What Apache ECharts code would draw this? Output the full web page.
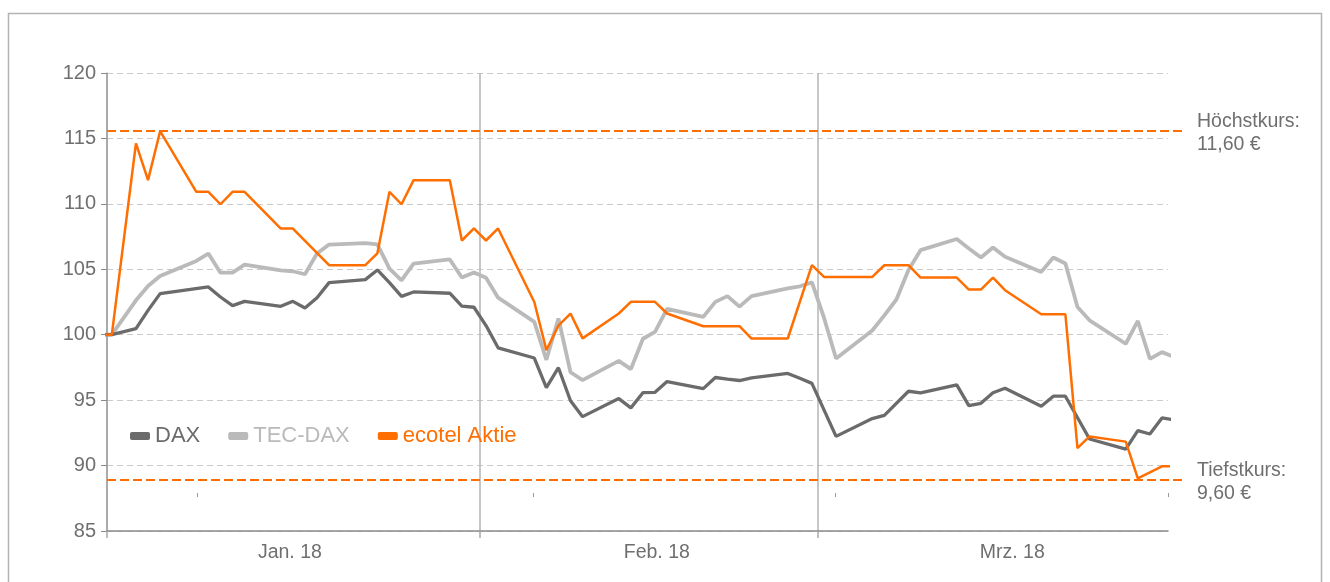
<!DOCTYPE html>
<html>
<head>
<meta charset="utf-8">
<script src="https://cdn.jsdelivr.net/npm/echarts@6/dist/echarts.min.js"></script>
<style>
  html, body { margin: 0; padding: 0; background: #fff; }
  #chart { width: 1330px; height: 582px; }
</style>
</head>
<body>
<div id="chart"></div>
<script>
// ---- Data (x = trading day offset from start, y = indexed value, start = 100) ----
const daxDays = [-1,0,2,3,4,8,9,10,11,14,15,16,17,18,21,22,23,24,25,28,29,30,31,32,35,36,37,38,39,42,43,44,45,46,49,50,51,52,53,56,57,58,60,63,64,66,67,70,71,72,73,74,77,78,79,81,84,85,86,87,88];
const daxValues = [100,100,100.46,101.86,103.14,103.65,102.88,102.22,102.55,102.17,102.55,102.04,102.83,103.98,104.21,104.95,103.98,102.93,103.27,103.17,102.18,102.1,100.7,99.0,98.22,95.95,97.48,94.95,93.74,95.12,94.41,95.57,95.6,96.42,95.88,96.73,96.6,96.5,96.7,97.04,96.67,96.28,92.23,93.59,93.84,95.68,95.56,96.17,94.58,94.76,95.56,95.91,94.53,95.3,95.3,92.03,91.26,92.67,92.41,93.64,93.5];

const tecDays = [-1,0,2,3,4,7,8,9,10,11,14,15,16,17,18,21,22,23,24,25,28,29,30,31,32,35,36,37,38,39,42,43,44,45,46,49,50,51,52,53,56,57,58,59,60,63,64,65,66,67,70,71,72,73,74,77,78,79,80,81,84,85,86,87,88];
const tecValues = [100,100,102.63,103.72,104.49,105.64,106.2,104.74,104.74,105.36,104.92,104.85,104.62,106.2,106.89,107.0,106.91,105.05,104.16,105.43,105.75,104.37,104.76,104.36,102.83,100.98,98.08,101.24,97.13,96.53,98.0,97.37,99.69,100.22,101.98,101.36,102.51,102.95,102.15,102.95,103.54,103.7,104.0,101.3,98.18,100.32,101.48,102.69,104.95,106.46,107.31,106.59,105.9,106.67,105.95,104.8,105.9,105.44,102.12,101.1,99.31,101.05,98.16,98.67,98.3];

const ecoDays = [-1,0,2,3,4,7,8,9,10,11,14,15,18,21,22,23,24,25,28,29,30,31,32,35,36,37,38,39,42,43,45,46,49,52,53,56,58,59,63,64,66,67,70,71,72,73,74,77,79,80,81,84,85,87,88];
const ecoValues = [100,100,114.62,111.81,115.55,110.92,110.92,109.97,110.92,110.92,108.11,108.11,105.31,105.31,106.22,110.92,109.97,111.81,111.81,107.2,108.12,107.2,108.12,102.5,98.82,100.69,101.62,99.72,101.62,102.51,102.51,101.62,100.65,100.65,99.71,99.71,105.32,104.42,104.42,105.31,105.31,104.37,104.37,103.45,103.45,104.37,103.4,101.56,101.56,91.34,92.23,91.83,89.02,89.94,89.94];

const seriesNames = ['DAX', 'TEC-DAX', 'ecotel Aktie'];
const yTicks = [85, 90, 95, 100, 105, 110, 115, 120];
const monthLabels = ['Jan. 18', 'Feb. 18', 'Mrz. 18'];
const monthLabelPos = [14.75, 45.15, 74.6];
const monthBoundaries = [-0.4, 30.5, 58.5];
const minorTickPos = [7.1, 34.9, 59.9, 87.5];
const refLevels = [115.6, 88.95];
const refLabels = ['Höchstkurs:\n11,60 €', 'Tiefstkurs:\n9,60 €'];

function pairs(days, vals) { return days.map((d, i) => [d, vals[i]]); }

const C_DAX = '#6b6b6b', C_TEC = '#bababa', C_ECO = '#ff6e00', C_TXT = '#6f6f6f';

const chart = echarts.init(document.getElementById('chart'), null, { renderer: 'canvas' });
chart.setOption({
  animation: false,
  backgroundColor: '#fff',
  textStyle: { fontFamily: '"Liberation Sans", Arial, sans-serif' },
  graphic: [{
    type: 'rect', silent: true,
    shape: { x: 8.5, y: 13.5, width: 1313, height: 620 },
    style: { fill: 'none', stroke: '#b3b3b3', lineWidth: 1.5 }
  }],
  legend: {
    left: 130, top: 425, padding: 0,
    itemWidth: 20, itemHeight: 8, itemGap: 28,
    icon: 'roundRect',
    textStyle: { fontSize: 22 },
    data: [
      { name: seriesNames[0], textStyle: { color: C_DAX } },
      { name: seriesNames[1], textStyle: { color: C_TEC } },
      { name: seriesNames[2], textStyle: { color: C_ECO } }
    ]
  },
  grid: [
    { left: 107, right: 162, top: 73, bottom: 51, containLabel: false },
    { left: 107, right: 145, top: 73, bottom: 51, containLabel: false }
  ],
  xAxis: [
    {
      type: 'value', gridIndex: 0, min: -0.4, max: 87.5,
      axisLine: { show: true, onZero: false, lineStyle: { color: '#8a8a8a', width: 1.5 } },
      axisTick: { show: true, length: 7, customValues: monthBoundaries, lineStyle: { color: '#a8a8a8', width: 1.5 } },
      splitLine: { show: true, lineStyle: { color: '#b5b5b5', width: 1.5, type: 'solid' } },
      axisLabel: {
        customValues: monthLabelPos, color: C_TXT, fontSize: 19.5, margin: 12,
        formatter: v => { const i = monthLabelPos.findIndex(p => Math.abs(p - v) < 1e-6); return i >= 0 ? monthLabels[i] : ''; }
      }
    },
    {
      type: 'value', gridIndex: 0, min: -0.4, max: 87.5, position: 'bottom', offset: -38,
      axisLine: { show: false, onZero: false },
      axisTick: { show: true, length: 4, customValues: minorTickPos, lineStyle: { color: '#9a9a9a', width: 1 } },
      axisLabel: { show: false },
      splitLine: { show: false }
    },
    { type: 'value', gridIndex: 1, min: 0, max: 1, show: false }
  ],
  yAxis: [
    {
      type: 'value', gridIndex: 0, min: 85, max: 120, interval: 5,
      axisLine: { show: true, onZero: false, lineStyle: { color: '#a0a0a0', width: 1.5 } },
      axisTick: { show: true, length: 6, lineStyle: { color: '#8a8a8a' } },
      axisLabel: { color: C_TXT, fontSize: 20, margin: 11, formatter: v => yTicks.includes(v) ? String(v) : '' },
      splitLine: { show: true, lineStyle: { color: '#cacaca', width: 1.2, type: [6, 4] } }
    },
    { type: 'value', gridIndex: 1, min: 85, max: 120, show: false }
  ],
  series: [
    {
      name: seriesNames[0], type: 'line', xAxisIndex: 0, yAxisIndex: 0,
      data: pairs(daxDays, daxValues), showSymbol: false, symbol: 'none', z: 3,
      lineStyle: { color: C_DAX, width: 3.3 }, itemStyle: { color: C_DAX }
    },
    {
      name: seriesNames[1], type: 'line', xAxisIndex: 0, yAxisIndex: 0,
      data: pairs(tecDays, tecValues), showSymbol: false, symbol: 'none', z: 2,
      lineStyle: { color: C_TEC, width: 3.8 }, itemStyle: { color: C_TEC }
    },
    {
      name: seriesNames[2], type: 'line', xAxisIndex: 0, yAxisIndex: 0,
      data: pairs(ecoDays, ecoValues), showSymbol: false, symbol: 'none', z: 4,
      lineStyle: { color: C_ECO, width: 2.5 }, itemStyle: { color: C_ECO }
    },
    {
      name: 'ref', type: 'line', xAxisIndex: 2, yAxisIndex: 1, data: [],
      markLine: {
        silent: true, symbol: ['none', 'none'], animation: false,
        lineStyle: { color: C_ECO, width: 2, type: [9, 4] },
        label: { show: true, position: 'end', distance: 12, offset: [0, 3], color: C_TXT, fontSize: 19.5, lineHeight: 23, align: 'left', formatter: '{b}' },
        emphasis: { disabled: true },
        data: refLevels.map((v, i) => ({ yAxis: v, name: refLabels[i] }))
      }
    }
  ]
});
</script>
</body>
</html>
